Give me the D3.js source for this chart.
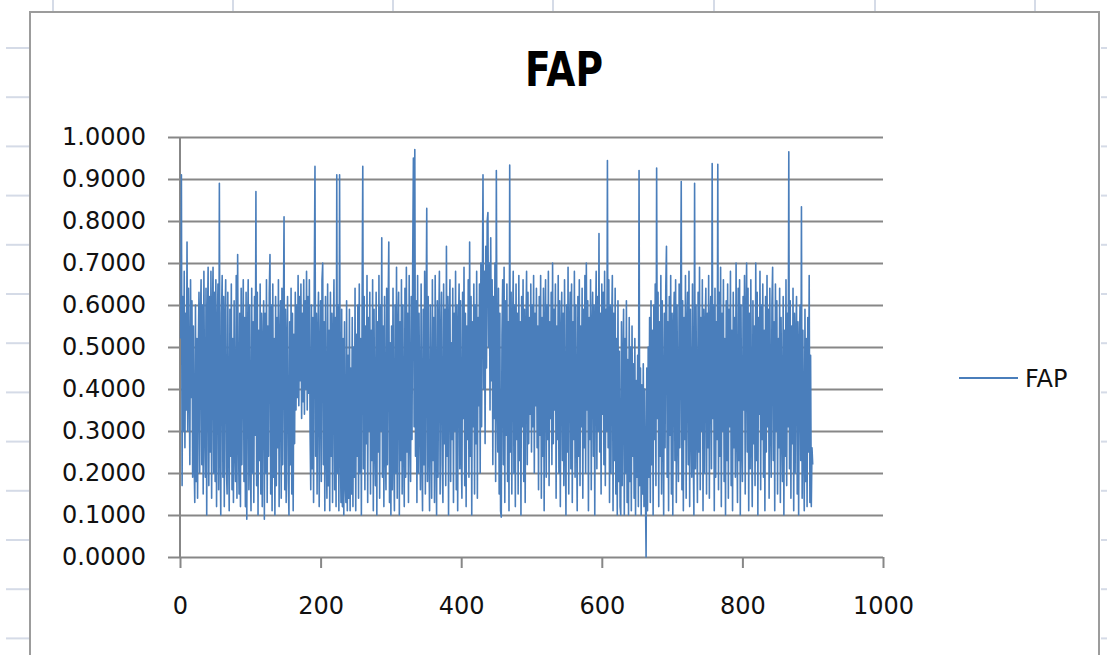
<!DOCTYPE html>
<meta charset="utf-8">
<style>
body { margin: 0; background: #fff; }
svg { display: block; }
.grid line { stroke: #878787; stroke-width: 2px; }
.axis path { stroke: #878787; stroke-width: 2px; }
.axis line { stroke: #878787; stroke-width: 2px; }
.axis text { font-family: "DejaVu Sans", sans-serif; font-size: 24px; fill: #111; }
.series { fill: none; stroke: #4a7ebb; stroke-width: 1.6px; stroke-linejoin: round; }
</style>
<body>
<script src="https://d3js.org/d3.v7.min.js"></script>
<script>

// chart title and series name
var chartTitle = "FAP";
var seriesName = "FAP";

// tick labels
var yTicks = [0, 0.1, 0.2, 0.3, 0.4, 0.5, 0.6, 0.7, 0.8, 0.9, 1.0];
var xTicks = [0, 200, 400, 600, 800, 1000];

// FAP values, one per x = 1 .. 900 (30 per row)
var fapValues = [
  0.52, 0.91, 0.17, 0.62, 0.30, 0.68, 0.26, 0.58, 0.35, 0.75, 0.30, 0.64, 0.44, 0.22, 0.66, 0.38, 0.61, 0.19, 0.55, 0.24, 0.13, 0.60, 0.18, 0.52, 0.14, 0.49, 0.63, 0.20, 0.57, 0.66,
  0.22, 0.60, 0.15, 0.68, 0.33, 0.19, 0.64, 0.10, 0.55, 0.69, 0.17, 0.62, 0.25, 0.68, 0.14, 0.57, 0.69, 0.20, 0.63, 0.18, 0.66, 0.12, 0.53, 0.65, 0.16, 0.89, 0.28, 0.10, 0.58, 0.67,
  0.19, 0.62, 0.12, 0.55, 0.66, 0.21, 0.15, 0.63, 0.30, 0.11, 0.59, 0.24, 0.65, 0.16, 0.52, 0.13, 0.61, 0.27, 0.18, 0.67, 0.14, 0.72, 0.33, 0.15, 0.58, 0.12, 0.64, 0.22, 0.50, 0.66,
  0.18, 0.57, 0.12, 0.63, 0.09, 0.51, 0.66, 0.16, 0.60, 0.25, 0.11, 0.64, 0.20, 0.56, 0.13, 0.62, 0.29, 0.87, 0.17, 0.63, 0.10, 0.54, 0.23, 0.65, 0.15, 0.58, 0.12, 0.49, 0.61, 0.09,
  0.58, 0.20, 0.66, 0.13, 0.55, 0.24, 0.63, 0.72, 0.15, 0.60, 0.11, 0.65, 0.19, 0.52, 0.10, 0.62, 0.17, 0.57, 0.26, 0.66, 0.12, 0.50, 0.61, 0.14, 0.64, 0.22, 0.55, 0.81, 0.16, 0.59,
  0.13, 0.50, 0.62, 0.18, 0.10, 0.56, 0.22, 0.64, 0.15, 0.58, 0.11, 0.53, 0.27, 0.63, 0.35, 0.60, 0.38, 0.67, 0.36, 0.62, 0.42, 0.65, 0.33, 0.58, 0.37, 0.66, 0.34, 0.61, 0.40, 0.68,
  0.35, 0.62, 0.39, 0.66, 0.30, 0.16, 0.60, 0.21, 0.57, 0.13, 0.64, 0.93, 0.24, 0.58, 0.15, 0.52, 0.63, 0.12, 0.47, 0.61, 0.18, 0.66, 0.70, 0.22, 0.56, 0.11, 0.62, 0.28, 0.14, 0.65,
  0.17, 0.54, 0.11, 0.63, 0.24, 0.58, 0.13, 0.50, 0.66, 0.16, 0.57, 0.12, 0.91, 0.20, 0.60, 0.11, 0.91, 0.27, 0.13, 0.59, 0.12, 0.52, 0.10, 0.56, 0.18, 0.13, 0.61, 0.11, 0.48, 0.14,
  0.59, 0.11, 0.45, 0.15, 0.57, 0.12, 0.50, 0.19, 0.64, 0.11, 0.53, 0.24, 0.60, 0.14, 0.65, 0.20, 0.52, 0.10, 0.58, 0.93, 0.21, 0.62, 0.16, 0.55, 0.27, 0.67, 0.13, 0.57, 0.30, 0.63,
  0.15, 0.54, 0.23, 0.66, 0.11, 0.59, 0.28, 0.17, 0.63, 0.10, 0.56, 0.25, 0.67, 0.14, 0.60, 0.30, 0.76, 0.19, 0.55, 0.12, 0.62, 0.27, 0.16, 0.64, 0.22, 0.58, 0.75, 0.13, 0.51, 0.10,
  0.55, 0.16, 0.64, 0.26, 0.11, 0.60, 0.20, 0.69, 0.14, 0.53, 0.63, 0.10, 0.56, 0.23, 0.66, 0.15, 0.60, 0.29, 0.12, 0.64, 0.19, 0.69, 0.25, 0.58, 0.13, 0.67, 0.32, 0.18, 0.62, 0.28,
  0.70, 0.95, 0.31, 0.97, 0.24, 0.61, 0.13, 0.67, 0.20, 0.58, 0.35, 0.16, 0.65, 0.26, 0.11, 0.59, 0.22, 0.68, 0.15, 0.55, 0.83, 0.18, 0.62, 0.28, 0.11, 0.60, 0.33, 0.14, 0.66, 0.23,
  0.57, 0.13, 0.67, 0.29, 0.10, 0.61, 0.19, 0.54, 0.68, 0.15, 0.50, 0.63, 0.22, 0.13, 0.65, 0.27, 0.59, 0.17, 0.74, 0.24, 0.62, 0.10, 0.55, 0.66, 0.18, 0.51, 0.28, 0.64, 0.13, 0.58,
  0.30, 0.68, 0.16, 0.60, 0.11, 0.53, 0.65, 0.21, 0.61, 0.26, 0.14, 0.63, 0.33, 0.69, 0.17, 0.58, 0.12, 0.55, 0.28, 0.66, 0.19, 0.75, 0.24, 0.62, 0.10, 0.56, 0.31, 0.65, 0.15, 0.60,
  0.27, 0.68, 0.14, 0.57, 0.36, 0.65, 0.20, 0.70, 0.31, 0.61, 0.91, 0.40, 0.68, 0.27, 0.74, 0.45, 0.80, 0.82, 0.50, 0.70, 0.35, 0.76, 0.42, 0.66, 0.22, 0.62, 0.33, 0.70, 0.18, 0.92,
  0.40, 0.25, 0.64, 0.15, 0.58, 0.11, 0.095, 0.53, 0.66, 0.22, 0.69, 0.13, 0.61, 0.29, 0.65, 0.18, 0.56, 0.11, 0.933, 0.25, 0.63, 0.15, 0.54, 0.68, 0.20, 0.60, 0.12, 0.65, 0.28, 0.58,
  0.15, 0.67, 0.23, 0.56, 0.10, 0.62, 0.31, 0.66, 0.18, 0.59, 0.13, 0.52, 0.68, 0.22, 0.63, 0.27, 0.57, 0.34, 0.65, 0.25, 0.60, 0.31, 0.67, 0.20, 0.58, 0.36, 0.64, 0.26, 0.55, 0.16,
  0.62, 0.29, 0.67, 0.14, 0.57, 0.24, 0.64, 0.11, 0.53, 0.66, 0.19, 0.60, 0.28, 0.68, 0.17, 0.56, 0.33, 0.63, 0.22, 0.70, 0.27, 0.59, 0.35, 0.65, 0.14, 0.55, 0.28, 0.67, 0.20, 0.61,
  0.12, 0.51, 0.63, 0.23, 0.58, 0.17, 0.66, 0.30, 0.10, 0.60, 0.25, 0.69, 0.15, 0.54, 0.63, 0.21, 0.65, 0.13, 0.56, 0.28, 0.68, 0.19, 0.60, 0.33, 0.11, 0.62, 0.24, 0.66, 0.17, 0.55,
  0.31, 0.64, 0.14, 0.59, 0.26, 0.67, 0.20, 0.70, 0.35, 0.61, 0.11, 0.57, 0.28, 0.66, 0.16, 0.53, 0.63, 0.24, 0.60, 0.10, 0.54, 0.68, 0.21, 0.62, 0.30, 0.77, 0.25, 0.58, 0.15, 0.65,
  0.34, 0.63, 0.22, 0.68, 0.17, 0.59, 0.30, 0.944, 0.26, 0.66, 0.13, 0.60, 0.20, 0.55, 0.67, 0.11, 0.58, 0.23, 0.64, 0.15, 0.52, 0.10, 0.61, 0.18, 0.49, 0.12, 0.10, 0.56, 0.17, 0.45,
  0.59, 0.10, 0.52, 0.20, 0.61, 0.13, 0.47, 0.10, 0.57, 0.18, 0.50, 0.11, 0.55, 0.24, 0.46, 0.14, 0.52, 0.10, 0.42, 0.19, 0.48, 0.12, 0.92, 0.17, 0.45, 0.10, 0.41, 0.15, 0.46, 0.12,
  0.40, 0.17, 0.00, 0.45, 0.11, 0.50, 0.19, 0.57, 0.13, 0.61, 0.22, 0.54, 0.10, 0.60, 0.28, 0.65, 0.17, 0.926, 0.33, 0.63, 0.12, 0.56, 0.24, 0.67, 0.15, 0.61, 0.35, 0.10, 0.58, 0.26,
  0.64, 0.74, 0.19, 0.56, 0.11, 0.62, 0.29, 0.67, 0.15, 0.58, 0.10, 0.53, 0.63, 0.23, 0.66, 0.13, 0.60, 0.31, 0.18, 0.65, 0.26, 0.55, 0.894, 0.16, 0.61, 0.11, 0.57, 0.28, 0.67, 0.14,
  0.54, 0.63, 0.22, 0.68, 0.12, 0.59, 0.33, 0.19, 0.65, 0.27, 0.10, 0.89, 0.21, 0.60, 0.35, 0.13, 0.63, 0.25, 0.69, 0.16, 0.57, 0.30, 0.66, 0.11, 0.59, 0.20, 0.54, 0.64, 0.15, 0.58,
  0.26, 0.67, 0.14, 0.55, 0.62, 0.21, 0.937, 0.33, 0.60, 0.11, 0.64, 0.19, 0.56, 0.28, 0.935, 0.16, 0.63, 0.24, 0.69, 0.12, 0.58, 0.30, 0.66, 0.18, 0.52, 0.10, 0.61, 0.23, 0.65, 0.14,
  0.59, 0.31, 0.68, 0.17, 0.54, 0.11, 0.63, 0.26, 0.57, 0.19, 0.70, 0.34, 0.13, 0.64, 0.23, 0.66, 0.10, 0.60, 0.29, 0.18, 0.62, 0.35, 0.67, 0.15, 0.56, 0.70, 0.25, 0.64, 0.11, 0.58,
  0.21, 0.66, 0.32, 0.12, 0.61, 0.27, 0.55, 0.17, 0.70, 0.23, 0.63, 0.10, 0.57, 0.34, 0.68, 0.16, 0.60, 0.28, 0.65, 0.19, 0.54, 0.11, 0.62, 0.25, 0.67, 0.31, 0.59, 0.14, 0.64, 0.36,
  0.19, 0.60, 0.69, 0.23, 0.56, 0.11, 0.65, 0.30, 0.61, 0.15, 0.52, 0.26, 0.64, 0.13, 0.57, 0.33, 0.18, 0.62, 0.10, 0.54, 0.24, 0.66, 0.17, 0.58, 0.31, 0.965, 0.21, 0.61, 0.14, 0.55,
  0.27, 0.64, 0.11, 0.58, 0.20, 0.52, 0.62, 0.15, 0.56, 0.10, 0.49, 0.60, 0.23, 0.834, 0.14, 0.54, 0.29, 0.11, 0.59, 0.18, 0.52, 0.12, 0.57, 0.25, 0.67, 0.13, 0.48, 0.12, 0.26, 0.22
];

var W = 1107, H = 655;
var plot = {left: 180, right: 883, top: 137, bottom: 557};

var svg = d3.select("body").append("svg")
    .attr("width", W)
    .attr("height", H);

// spreadsheet cell marks peeking around the chart object
var sheet = svg.append("g").attr("stroke", "#d5dbe7").attr("stroke-width", 2);
d3.range(13).forEach(function(i) {
  var yy = 48 + i * 49.2;
  sheet.append("line").attr("x1", 6).attr("x2", 29).attr("y1", yy).attr("y2", yy);
  sheet.append("line").attr("x1", 1101).attr("x2", 1107).attr("y1", yy).attr("y2", yy);
});
[53, 233, 393, 553, 714, 875, 1035].forEach(function(xx) {
  sheet.append("line").attr("x1", xx).attr("x2", xx).attr("y1", 0).attr("y2", 11);
});

// chart frame
svg.append("rect")
    .attr("x", 30).attr("y", 12)
    .attr("width", 1069).attr("height", 700)
    .attr("fill", "#fff")
    .attr("stroke", "#9c9c9c")
    .attr("stroke-width", 2);

// scales
var x = d3.scaleLinear().domain([0, 1000]).range([plot.left, plot.right]);
var y = d3.scaleLinear().domain([0, 1]).range([plot.bottom, plot.top]);

// y axis with gridlines
var yAxis = svg.append("g")
    .attr("class", "axis grid")
    .attr("transform", "translate(" + plot.left + ",0)")
    .call(d3.axisLeft(y)
      .tickValues(yTicks)
      .tickFormat(d3.format(".4f"))
      .tickSizeInner(-(plot.right - plot.left))
      .tickSizeOuter(0)
      .tickPadding(34));
yAxis.select(".domain").remove();
yAxis.selectAll(".tick line").attr("x1", -12);

svg.append("line")
    .attr("x1", plot.left).attr("x2", plot.left)
    .attr("y1", plot.top).attr("y2", plot.bottom)
    .attr("stroke", "#878787").attr("stroke-width", 2);

// x axis
var xAxis = svg.append("g")
    .attr("class", "axis")
    .attr("transform", "translate(0," + plot.bottom + ")")
    .call(d3.axisBottom(x)
      .tickValues(xTicks)
      .tickFormat(d3.format("d"))
      .tickSizeInner(11)
      .tickSizeOuter(0)
      .tickPadding(29));
xAxis.select(".domain").remove();

// the series
var line = d3.line()
    .x(function(d, i) { return x(i + 1); })
    .y(function(d) { return y(d); });

svg.append("path")
    .datum(fapValues)
    .attr("class", "series")
    .attr("d", line);

// title
svg.append("text")
    .attr("x", 564).attr("y", 86)
    .attr("text-anchor", "middle")
    .attr("textLength", 78)
    .attr("lengthAdjust", "spacingAndGlyphs")
    .style("font-family", "DejaVu Sans, sans-serif")
    .style("font-weight", "bold")
    .style("font-size", "48px")
    .text(chartTitle);

// legend
svg.append("line")
    .attr("x1", 959).attr("x2", 1018)
    .attr("y1", 378).attr("y2", 378)
    .attr("stroke", "#4a7ebb").attr("stroke-width", 2);
svg.append("text")
    .attr("x", 1025).attr("y", 387)
    .style("font-family", "DejaVu Sans, sans-serif")
    .style("font-size", "24px")
    .style("fill", "#111")
    .text(seriesName);

</script>
</body>
